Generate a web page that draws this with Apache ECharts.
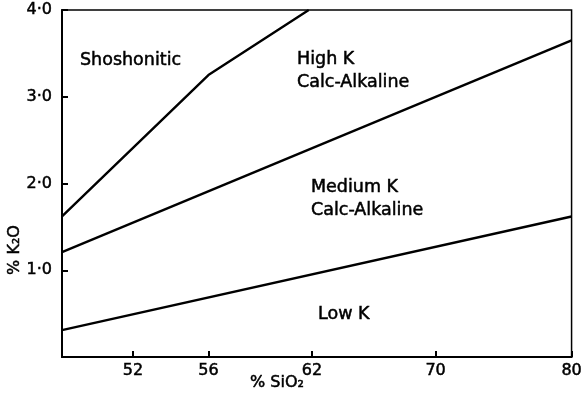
<!DOCTYPE html>
<html><head><meta charset="utf-8">
<script src="https://cdn.jsdelivr.net/npm/echarts@6/dist/echarts.min.js"></script>
<style>html,body{margin:0;padding:0;background:#fff}#c{width:585px;height:397px}</style>
</head><body><div id="c"></div>
<script>
// Data (SiO2 wt% vs K2O wt%)
const xTicks = [52, 56, 62, 70, 80];
const yTicks = [1, 2, 3, 4];
const xMin = 48.5, xMax = 80;
const shoshoniticX = [48.5, 56, 61.8];
const shoshoniticY = [1.62, 3.25, 4.0];
const highKX = [48.5, 80];
const highKY = [1.21, 3.65];
const mediumKX = [48.5, 80];
const mediumKY = [0.31, 1.62];
const regionNames = ['Shoshonitic', 'High K', 'Calc-Alkaline', 'Medium K', 'Calc-Alkaline', 'Low K'];
const xName = '% SiO₂';
const yName = '% K₂O';

const zip = (a, b) => a.map((v, i) => [v, b[i]]);
const FONT = 'DejaVu Sans';
const chart = echarts.init(document.getElementById('c'), null, {renderer: 'canvas'});
const lineStyle = {color: '#000', width: 2.4};
const regionPos = [[80, 60], [297, 59], [297, 82], [311, 187], [311, 210], [318, 314]];

chart.setOption({
  backgroundColor: '#fff',
  animation: false,
  grid: {left: 62, right: 7, top: 10, bottom: 40, show: true, borderColor: '#000', borderWidth: 1.5, backgroundColor: 'transparent'},
  xAxis: {
    type: 'log', min: xMin, max: xMax,
    axisLine: {show: true, lineStyle: {color: '#000', width: 2}},
    axisTick: {show: true, inside: true, length: 6, customValues: xTicks, lineStyle: {color: '#000', width: 2}},
    axisLabel: {customValues: xTicks, color: '#000', fontFamily: FONT, fontSize: 16, margin: 6,
      textBorderColor: '#000', textBorderWidth: 0.5},
    splitLine: {show: false}, minorTick: {show: false}
  },
  yAxis: {
    type: 'value', min: 0, max: 4, interval: 1,
    axisLine: {show: true, lineStyle: {color: '#000', width: 2}},
    axisTick: {show: true, inside: true, length: 6, lineStyle: {color: '#000', width: 2}},
    axisLabel: {color: '#000', fontFamily: FONT, fontSize: 16, margin: 10,
      textBorderColor: '#000', textBorderWidth: 0.5,
      formatter: v => yTicks.includes(v) ? v.toFixed(1).replace('.', '·') : ''},
    splitLine: {show: false}
  },
  series: [
    {type: 'line', data: zip(shoshoniticX, shoshoniticY), symbol: 'none', lineStyle: lineStyle},
    {type: 'line', data: zip(highKX, highKY), symbol: 'none', lineStyle: lineStyle},
    {type: 'line', data: zip(mediumKX, mediumKY), symbol: 'none', lineStyle: lineStyle}
  ],
  graphic: [
    ...regionNames.map((t, i) => ({
      type: 'text', x: regionPos[i][0], y: regionPos[i][1],
      style: {text: t, fill: '#000', font: '17.5px "DejaVu Sans"', verticalAlign: 'middle',
        stroke: '#000', lineWidth: 0.5}
    })),
    {type: 'text', x: 250, y: 383, style: {text: xName, fill: '#000', font: '16px "DejaVu Sans"', verticalAlign: 'middle', stroke: '#000', lineWidth: 0.5}},
    {type: 'text', x: 15, y: 250, rotation: Math.PI / 2,
      style: {text: yName, fill: '#000', font: '16px "DejaVu Sans"', align: 'center', verticalAlign: 'middle', stroke: '#000', lineWidth: 0.5}}
  ]
});
</script></body></html>
